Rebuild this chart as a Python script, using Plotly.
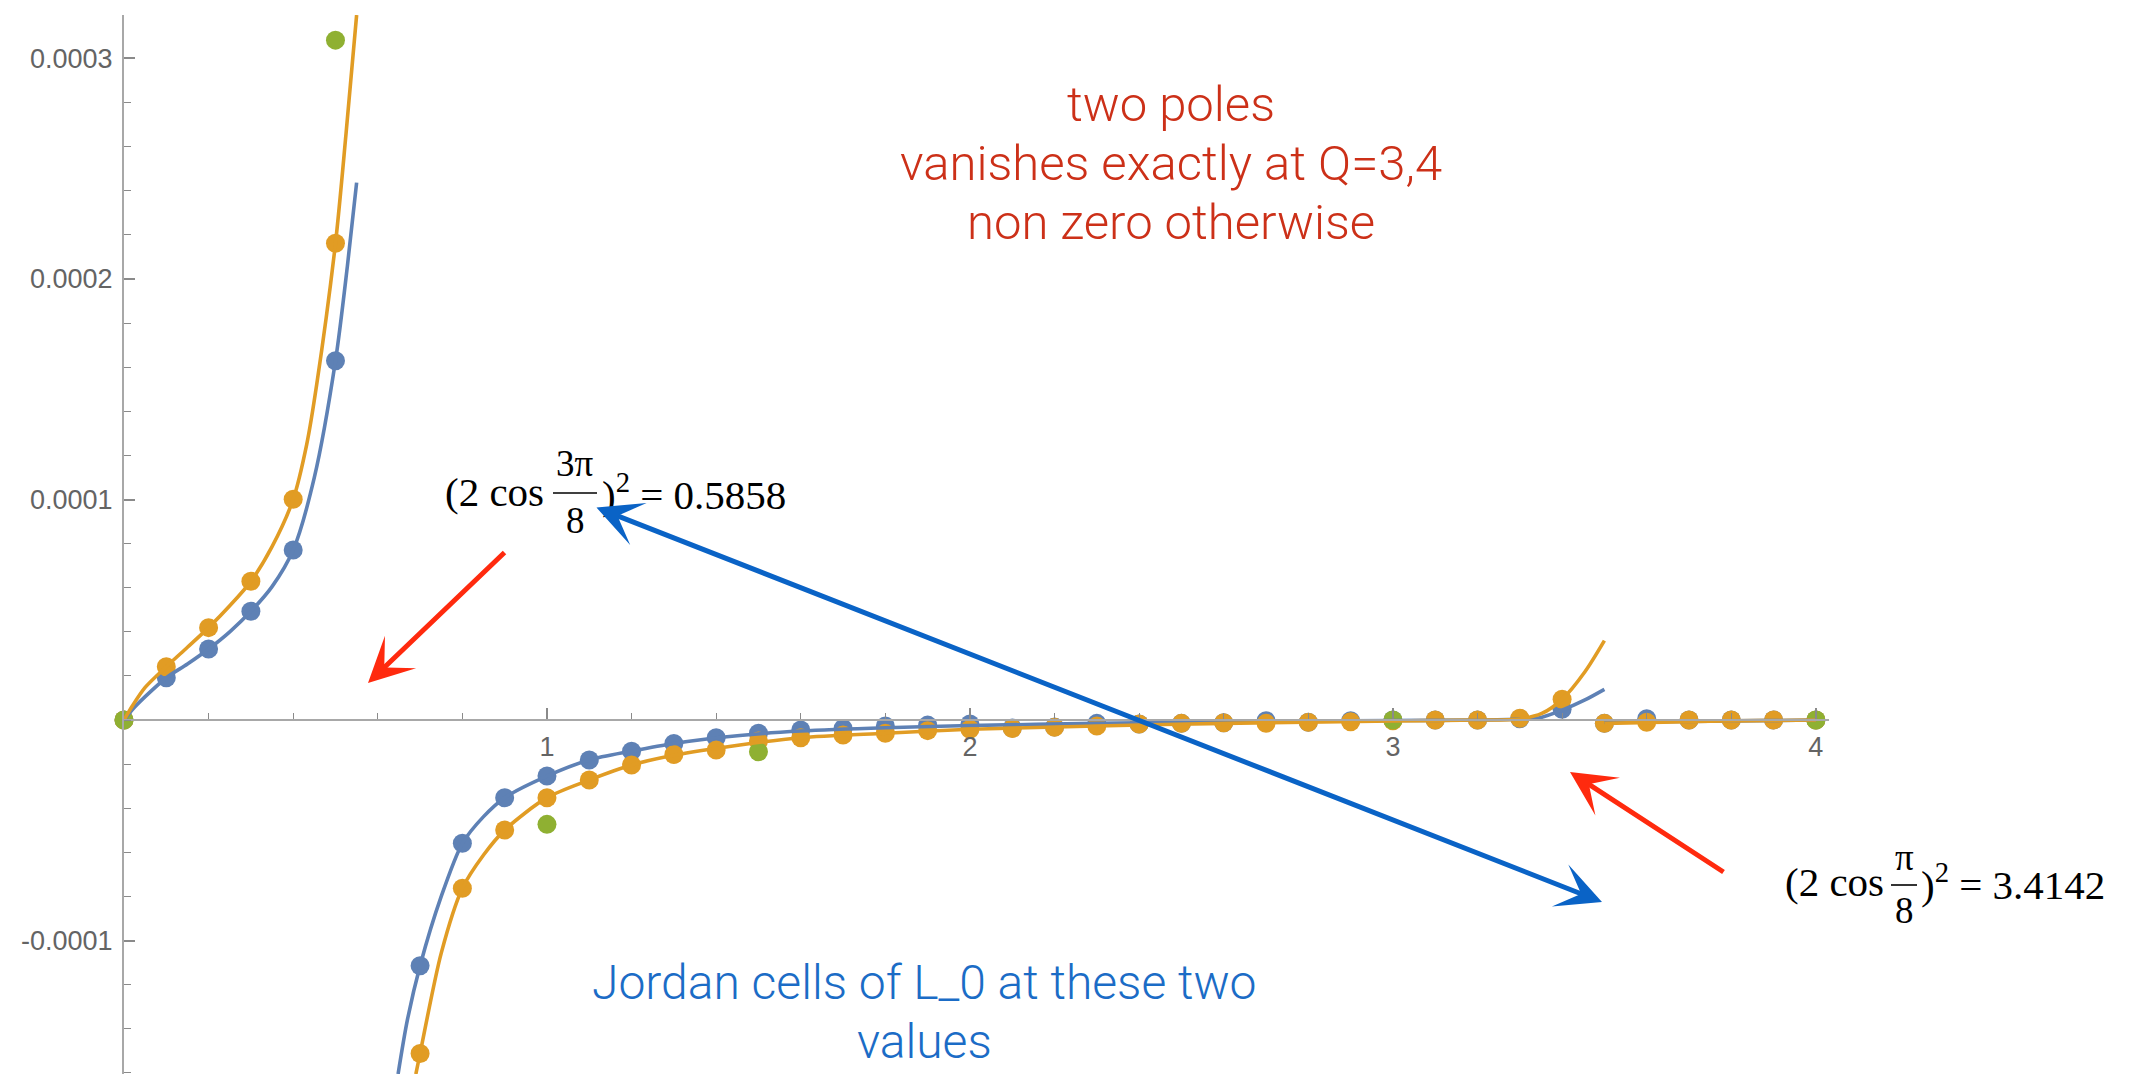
import plotly.graph_objects as go

# ---------------- data (values in units of 1e-4) ----------------
UNIT = 1e-4

q_left = [0.0, 0.1, 0.2, 0.3, 0.4, 0.5]
blue_left = [0.0, 0.192, 0.322, 0.493, 0.771, 1.629]
orange_left = [0.0, 0.242, 0.419, 0.629, 1.001, 2.162]

q_right = [0.7, 0.8, 0.9, 1.0, 1.1, 1.2, 1.3, 1.4, 1.5, 1.6, 1.7, 1.8, 1.9, 2.0,
           2.1, 2.2, 2.3, 2.4, 2.5, 2.6, 2.7, 2.8, 2.9, 3.0, 3.1, 3.2, 3.3, 3.4,
           3.5, 3.6, 3.7, 3.8, 3.9, 4.0]
blue_right = [-1.114, -0.559, -0.352, -0.254, -0.181, -0.141, -0.106, -0.080, -0.060,
              -0.045, -0.038, -0.027, -0.023, -0.018, -0.036, -0.031, -0.015, -0.018,
              -0.015, -0.012, -0.003, -0.010, -0.003, 0.0, 0.0, 0.0, 0.006, 0.049,
              -0.015, 0.006, 0.0, 0.0, 0.0, 0.0]
orange_right = [-1.512, -0.763, -0.499, -0.352, -0.272, -0.204, -0.156, -0.136, -0.095,
                -0.080, -0.068, -0.060, -0.048, -0.042, -0.038, -0.033, -0.027, -0.018,
                -0.015, -0.012, -0.015, -0.010, -0.008, -0.003, 0.0, 0.0, 0.008, 0.094,
                -0.015, -0.010, 0.0, 0.0, 0.0, 0.0]

q_green = [0.0, 0.5, 1.0, 1.5, 3.0, 4.0]
green_vals = [0.0, 3.083, -0.473, -0.144, 0.0, 0.0]

# curves
blue_curve_a_q = [0.0, 0.02, 0.05, 0.1, 0.15, 0.2, 0.25, 0.3, 0.35, 0.4, 0.45, 0.5, 0.528, 0.55]
blue_curve_a_v = [0.0, 0.048, 0.106, 0.192, 0.254, 0.322, 0.40, 0.493, 0.605, 0.771, 1.10, 1.629, 2.056, 2.437]
orange_curve_a_q = [0.0, 0.02, 0.05, 0.1, 0.15, 0.2, 0.25, 0.3, 0.35, 0.4, 0.432, 0.4555, 0.5, 0.525, 0.55]
orange_curve_a_v = [0.0, 0.065, 0.148, 0.242, 0.33, 0.419, 0.518, 0.629, 0.786, 1.001, 1.25, 1.52, 2.162, 2.66, 3.197]

blue_curve_b_q = [0.648, 0.67, 0.7, 0.75, 0.8, 0.85, 0.9, 1.0, 1.1, 1.2, 1.3, 1.456, 1.6, 1.8,
                  2.0, 2.3, 2.6, 3.0, 3.2, 3.3, 3.35, 3.4, 3.454, 3.5]
blue_curve_b_v = [-1.605, -1.36, -1.114, -0.80, -0.559, -0.438, -0.352, -0.254, -0.181, -0.141,
                  -0.106, -0.07, -0.05, -0.035, -0.025, -0.015, -0.008, -0.002, 0.0, 0.005,
                  0.012, 0.045, 0.091, 0.139]
orange_curve_b_q = [0.690, 0.7, 0.75, 0.8, 0.85, 0.9, 1.0, 1.1, 1.2, 1.3, 1.456, 1.6, 1.8, 2.0,
                    2.3, 2.6, 3.0, 3.2, 3.3, 3.352, 3.4, 3.454, 3.5]
orange_curve_b_v = [-1.605, -1.512, -1.057, -0.763, -0.612, -0.499, -0.352, -0.272, -0.204,
                    -0.160, -0.113, -0.08, -0.06, -0.042, -0.027, -0.015, -0.004, 0.0, 0.005,
                    0.03, 0.094, 0.219, 0.36]
blue_curve_c_q = [3.5, 3.75, 4.0]
blue_curve_c_v = [-0.01, -0.005, 0.0]
orange_curve_c_q = [3.5, 3.75, 4.0]
orange_curve_c_v = [-0.015, -0.005, 0.0]

x_tickvals = [1, 2, 3, 4]
x_ticktext = ["1", "2", "3", "4"]
y_tickvals = [-0.0001, 0.0001, 0.0002, 0.0003]
y_ticktext = ["-0.0001", "0.0001", "0.0002", "0.0003"]

red_lines = ["two poles", "vanishes exactly at Q=3,4", "non zero otherwise"]
blue_lines = ["Jordan cells of L_0 at these two", "values"]

# ---------------- style ----------------
BLUE = "#5E81B5"
ORANGE = "#E19C24"
GREEN = "#8FB032"
W, H = 2143, 1074
ML, MR, MT, MB = 124, 314, 15, 0
PW, PH = W - ML - MR, H - MT - MB
YMIN, YMAX = -1.605e-4, 3.197e-4
XMAX = 4.031


def pxx(xp):
    return (xp - ML) / PW


def pxy(yp):
    return (H - MB - yp) / PH


def scaled(vals):
    return [v * UNIT for v in vals]


fig = go.Figure()

# points
for q, v, c in [(q_left, blue_left, BLUE), (q_right, blue_right, BLUE),
                (q_left, orange_left, ORANGE), (q_right, orange_right, ORANGE),
                (q_green, green_vals, GREEN)]:
    fig.add_trace(go.Scatter(x=q, y=scaled(v), mode="markers",
                             marker=dict(color=c, size=19, line=dict(width=0)),
                             cliponaxis=False, showlegend=False, hoverinfo="skip"))

# lines
for q, v, c in [(blue_curve_a_q, blue_curve_a_v, BLUE), (blue_curve_b_q, blue_curve_b_v, BLUE),
                (blue_curve_c_q, blue_curve_c_v, BLUE),
                (orange_curve_a_q, orange_curve_a_v, ORANGE), (orange_curve_b_q, orange_curve_b_v, ORANGE),
                (orange_curve_c_q, orange_curve_c_v, ORANGE)]:
    fig.add_trace(go.Scatter(x=q, y=scaled(v), mode="lines",
                             line=dict(color=c, width=3.6, shape="spline", smoothing=0.8),
                             cliponaxis=True, showlegend=False, hoverinfo="skip"))

tickfont = dict(family="Liberation Sans, Arial, sans-serif", size=27, color="#646464")
p0 = (0 - YMIN) / (YMAX - YMIN)

fig.update_layout(
    width=W, height=H, template="none",
    margin=dict(l=ML, r=MR, t=MT, b=MB, pad=0),
    paper_bgcolor="white", plot_bgcolor="white",
    showlegend=False,
    xaxis=dict(range=[0, XMAX], anchor="free", position=p0, side="bottom",
               showline=True, linecolor="#a8a8a8", linewidth=2,
               showgrid=False, zeroline=False, automargin=False,
               tickmode="array", tickvals=x_tickvals, ticktext=x_ticktext,
               ticks="inside", ticklen=11, tickwidth=1.5, tickcolor="#8a8a8a",
               tickfont=tickfont, ticklabelstandoff=3,
               minor=dict(tickmode="linear", tick0=0, dtick=0.2, ticks="inside",
                          ticklen=6, tickwidth=1.2, tickcolor="#8a8a8a", showgrid=False)),
    yaxis=dict(range=[YMIN, YMAX], showline=True, linecolor="#a8a8a8", linewidth=2,
               showgrid=False, zeroline=False, automargin=False,
               tickmode="array", tickvals=y_tickvals, ticktext=y_ticktext,
               ticks="inside", ticklen=11, tickwidth=1.5, tickcolor="#8a8a8a",
               tickfont=tickfont, ticklabelstandoff=4,
               minor=dict(tickmode="linear", tick0=0, dtick=0.00002, ticks="inside",
                          ticklen=7, tickwidth=1.2, tickcolor="#8a8a8a", showgrid=False)),
)

annotations = []
shapes = []

TXT_FONT = "Roboto, Liberation Sans, sans-serif"
for line, yc in zip(red_lines, [105, 164, 222]):
    annotations.append(dict(
        xref="paper", yref="paper", x=pxx(1171), y=pxy(yc), xanchor="center", yanchor="middle",
        text=line, showarrow=False,
        font=dict(family=TXT_FONT, size=49, color="#CC3018", weight=300)))
for line, yc in zip(blue_lines, [982, 1041]):
    annotations.append(dict(
        xref="paper", yref="paper", x=pxx(924), y=pxy(yc), xanchor="center", yanchor="middle",
        text=line, showarrow=False,
        font=dict(family=TXT_FONT, size=48, color="#1B6CC6", weight=300)))

MATH = "Liberation Serif, DejaVu Serif, serif"


def math_expr(left_right_edge, frac_x0, frac_x1, right_left_edge, mid_y, num, den, tail,
              num_y, den_y, line_y):
    cx = (frac_x0 + frac_x1) / 2
    annotations.append(dict(xref="paper", yref="paper", x=pxx(left_right_edge), y=pxy(mid_y),
                            xanchor="right", yanchor="middle", text="(2 cos", showarrow=False,
                            font=dict(family=MATH, size=41, color="black")))
    annotations.append(dict(xref="paper", yref="paper", x=pxx(cx), y=pxy(num_y),
                            xanchor="center", yanchor="middle", text=num, showarrow=False,
                            font=dict(family=MATH, size=37, color="black")))
    annotations.append(dict(xref="paper", yref="paper", x=pxx(cx), y=pxy(den_y),
                            xanchor="center", yanchor="middle", text=den, showarrow=False,
                            font=dict(family=MATH, size=37, color="black")))
    shapes.append(dict(type="line", xref="paper", yref="paper",
                       x0=pxx(frac_x0), x1=pxx(frac_x1), y0=pxy(line_y), y1=pxy(line_y),
                       line=dict(color="black", width=1.6)))
    annotations.append(dict(xref="paper", yref="paper", x=pxx(right_left_edge), y=pxy(mid_y),
                            xanchor="left", yanchor="middle", text=tail, showarrow=False,
                            font=dict(family=MATH, size=41, color="black")))


math_expr(546, 553, 597, 600, 492, "3π", "8", ")<sup>2</sup> = 0.5858", 463, 520, 493)
math_expr(1886, 1891, 1917, 1919, 882, "π", "8", ")<sup>2</sup> = 3.4142", 857, 910, 885)

# arrows
RED = "#FF2A0E"
ABLUE = "#0A63C6"
annotations.append(dict(xref="paper", yref="paper", x=pxx(368), y=pxy(683), ax=138, ay=-132,
                        axref="pixel", ayref="pixel", text="", showarrow=True,
                        arrowhead=3, arrowsize=1.5, arrowwidth=5, arrowcolor=RED))
annotations.append(dict(xref="paper", yref="paper", x=pxx(1570), y=pxy(772), ax=155, ay=101,
                        axref="pixel", ayref="pixel", text="", showarrow=True,
                        arrowhead=3, arrowsize=1.5, arrowwidth=5, arrowcolor=RED))
annotations.append(dict(xref="paper", yref="paper", x=pxx(1602), y=pxy(902), ax=-1007, ay=-395,
                        axref="pixel", ayref="pixel", text="", showarrow=True,
                        arrowhead=3, startarrowhead=3, arrowside="end+start",
                        arrowsize=1.5, startarrowsize=1.5, arrowwidth=5, arrowcolor=ABLUE))

fig.update_layout(annotations=annotations, shapes=shapes)

fig.write_html("out.html", config={"displayModeBar": False},
               post_script="document.body.style.margin='0px';")
